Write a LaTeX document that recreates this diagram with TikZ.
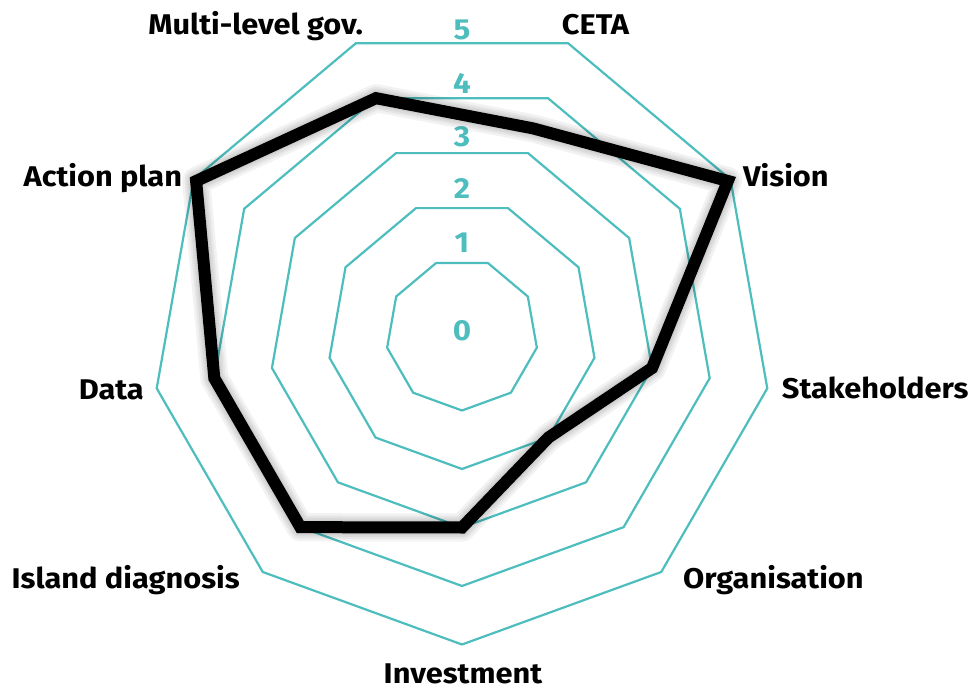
\documentclass[tikz,border=0pt]{standalone}
\usepackage{fontspec}
\setmainfont{Fira Sans}
\newfontfamily\chartfont{Fira Sans}[FakeStretch=1.08]
\usepackage{xcolor}
\usepackage{tikz}
\definecolor{ringteal}{RGB}{77,189,189}

\begin{document}
\begin{tikzpicture}[x=1pt,y=1pt]
\tikzstyle{every node}+=[inner sep=0pt]
\tikzstyle{ring}=[ringteal, line width=2.2pt, line join=miter]
\tikzstyle{score}=[black, line width=12pt, line join=miter, miter limit=10]
\tikzstyle{halo}=[black, opacity=0.05, line join=round, shift={(2,-3)}]
\tikzstyle{level}=[ringteal, font=\chartfont\fontsize{29}{29}\bfseries\selectfont]
\tikzstyle{axis}=[black, font=\chartfont\fontsize{28.5}{28.5}\bfseries\selectfont]
\useasboundingbox (-462,334.5) rectangle (512,-353.5);
% rings 1 to 5
\draw [ring] (-90:76) -- (-50:76) -- (-10:76) -- (30:76) -- (70:76) -- (110:76) -- (150:76) -- (190:76) -- (230:76) -- cycle;
\draw [ring] (-90:134.5) -- (-50:134.5) -- (-10:134.5) -- (30:134.5) -- (70:134.5) -- (110:134.5) -- (150:134.5) -- (190:134.5) -- (230:134.5) -- cycle;
\draw [ring] (-90:193) -- (-50:193) -- (-10:193) -- (30:193) -- (70:193) -- (110:193) -- (150:193) -- (190:193) -- (230:193) -- cycle;
\draw [ring] (-90:251.5) -- (-50:251.5) -- (-10:251.5) -- (30:251.5) -- (70:251.5) -- (110:251.5) -- (150:251.5) -- (190:251.5) -- (230:251.5) -- cycle;
\draw [ring] (-90:310) -- (-50:310) -- (-10:310) -- (30:310) -- (70:310) -- (110:310) -- (150:310) -- (190:310) -- (230:310) -- cycle;
% scale
\node (lvl0) at (0,3.5) [level] {0};
\node (lvl1) at (0,91.5) [level] {1};
\node (lvl2) at (0,146) [level] {2};
\node (lvl3) at (0,197.8) [level] {3};
\node (lvl4) at (0,251.5) [level] {4};
\node (lvl5) at (0,304.5) [level] {5};
% scores
\coordinate (investment) at (-90:193);
\coordinate (organisation) at (-50:134.5);
\coordinate (stakeholders) at (-10:193);
\coordinate (vision) at (30:307);
\coordinate (ceta) at (71:218);
\coordinate (multilevel) at (110:251.5);
\coordinate (actionplan) at (150:307);
\coordinate (data) at (190:251.5);
\coordinate (island) at (230:251.5);
\draw [halo, line width=28pt] (investment) -- (organisation) -- (stakeholders) -- (vision) -- (ceta) -- (multilevel) -- (actionplan) -- (data) -- (island) -- cycle;
\draw [halo, line width=23pt] (investment) -- (organisation) -- (stakeholders) -- (vision) -- (ceta) -- (multilevel) -- (actionplan) -- (data) -- (island) -- cycle;
\draw [halo, line width=19pt] (investment) -- (organisation) -- (stakeholders) -- (vision) -- (ceta) -- (multilevel) -- (actionplan) -- (data) -- (island) -- cycle;
\draw [halo, line width=15pt] (investment) -- (organisation) -- (stakeholders) -- (vision) -- (ceta) -- (multilevel) -- (actionplan) -- (data) -- (island) -- cycle;
\draw [score] (investment) -- (organisation) -- (stakeholders) -- (vision) -- (ceta) -- (multilevel) -- (actionplan) -- (data) -- (island) -- cycle;
% axis labels
\node (cetalbl) at (99.7,299.5) [axis, anchor=base west] {CETA};
\node (multilbl) at (-98.7,299.5) [axis, anchor=base east] {Multi-level gov.};
\node (visionlbl) at (281,147.8) [axis, anchor=base west] {Vision};
\node (actionlbl) at (-279.7,147.8) [axis, anchor=base east] {Action plan};
\node (stakelbl) at (319.7,-63.8) [axis, anchor=base west] {Stakeholders};
\node (datalbl) at (-318,-64.5) [axis, anchor=base east] {Data};
\node (orglbl) at (221,-253.5) [axis, anchor=base west] {Organisation};
\node (islandlbl) at (-222,-253.5) [axis, anchor=base east] {Island diagnosis};
\node (investlbl) at (1,-348.5) [axis, anchor=base] {Investment};
\end{tikzpicture}
\end{document}
